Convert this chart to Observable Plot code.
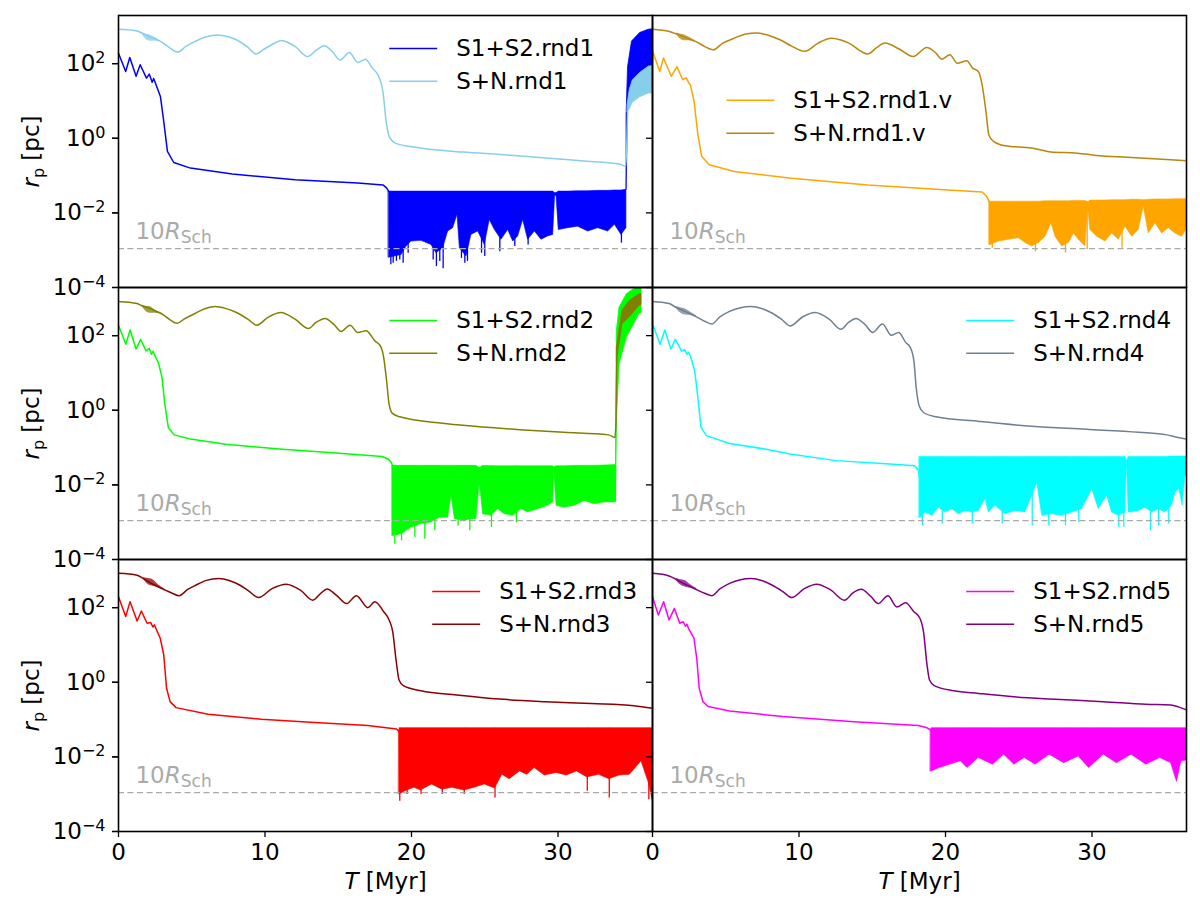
<!DOCTYPE html>
<html>
<head>
<meta charset="utf-8">
<script src="https://cdn.jsdelivr.net/npm/d3@7"></script>
<script src="https://cdn.jsdelivr.net/npm/@observablehq/plot@0.6"></script>
<style>
  html, body { margin: 0; padding: 0; background: #fff; }
  #chart { width: 1200px; height: 914px; }
</style>
</head>
<body>
<div id="chart"></div>
<script>
// ---- Data (T in Myr; all r values are log10(r_p / pc)) ----
const yTickValues = [1e-4, 1e-2, 1, 1e2];
const xTickValues = [0, 10, 20, 30];
const rSch10Log = -2.96;

// Panel 1: rnd1   (bands: [T, lower, upper]; spikes: [T, depth])
const s12Rnd1 = [[0,2.28],[0.49,1.79],[0.77,2.165],[1.2,1.66],[1.48,1.97],[1.91,1.61],[2.1,1.72],[2.3,1.5],[2.4,1.6],[2.55,1.45],[2.86,1.12],[3.06,0.54],[3.34,-0.35],[3.77,-0.65],[4.91,-0.8],[7.77,-0.96],[12.05,-1.11],[16.33,-1.2],[18.05,-1.25],[18.3,-1.33],[18.45,-1.43]];
const s12Rnd1Band = [[18.45,-3.2,-1.43],[18.86,-3.17,-1.43],[19.32,-3.13,-1.43],[19.66,-2.9,-1.43],[20.0,-2.77,-1.43],[20.68,-2.75,-1.43],[21.36,-2.86,-1.43],[21.7,-3.08,-1.43],[22.16,-2.95,-1.43],[22.5,-2.5,-1.43],[22.84,-2.41,-1.43],[23.14,-2.05,-1.43],[23.3,-2.95,-1.43],[23.75,-3.17,-1.43],[24.09,-2.59,-1.43],[24.55,-2.5,-1.43],[25.0,-2.86,-1.43],[25.34,-2.19,-1.43],[25.69,-2.46,-1.43],[26.14,-2.72,-1.43],[26.6,-2.46,-1.43],[26.94,-2.77,-1.43],[27.28,-2.63,-1.43],[27.62,-2.19,-1.43],[27.96,-2.72,-1.43],[28.42,-2.5,-1.43],[28.87,-2.72,-1.43],[29.33,-2.63,-1.43],[29.67,-2.59,-1.43],[29.8,-1.55,-1.47],[29.9,-1.55,-1.47],[30.05,-2.46,-1.43],[30.69,-2.41,-1.43],[31.37,-2.37,-1.42],[32.06,-2.5,-1.42],[32.74,-2.41,-1.41],[33.42,-2.5,-1.41],[33.88,-2.32,-1.4],[34.33,-2.59,-1.4],[34.67,-2.41,-1.38]];
const s12Rnd1Spikes = [[18.59,-3.39],[18.75,-3.35],[18.97,-3.3],[19.2,-3.26],[19.43,-3.35],[19.77,-3.08],[21.48,-3.26],[21.7,-3.44],[21.93,-3.3],[22.16,-3.5],[23.41,-3.22],[23.64,-3.35],[23.82,-3.3],[24.78,-3.08],[25.0,-3.17],[26.03,-3.04],[27.05,-2.9],[27.96,-2.86],[34.33,-2.81]];
const s12Rnd1Jump = [[34.68,-1.38,0.6],[34.78,0.7,1.9],[35.05,1.4,2.59],[35.6,1.5,2.82],[36.2,1.6,2.91],[36.45,1.6,2.92]];
const snRnd1 = [[0,2.92],[1.2,2.88],[1.6,2.82],[2.06,2.73],[2.5,2.66],[2.9,2.59],[3.5,2.42],[4.05,2.31],[4.6,2.46],[5.2,2.59],[6.0,2.72],[6.77,2.77],[7.5,2.72],[8.05,2.64],[8.8,2.45],[9.4,2.26],[9.9,2.38],[10.34,2.48],[11.14,2.62],[11.6,2.56],[12.05,2.46],[12.9,2.19],[13.5,2.36],[14.05,2.48],[14.6,2.32],[15.13,2.1],[15.76,2.3],[16.33,2.03],[16.85,2.12],[17.33,1.88],[17.76,1.66],[18.05,1.25],[18.27,0.45],[18.47,0.05],[18.9,-0.13],[20.6,-0.26],[23.5,-0.37],[26.3,-0.44],[29.2,-0.53],[32.2,-0.62],[34.2,-0.69],[34.62,-0.75],[34.7,-0.085],[34.75,0.72]];
const snRnd1Fuzz = [[1.6,2.8,2.83],[1.85,2.66,2.79],[2.15,2.6,2.77],[2.5,2.6,2.7],[2.85,2.58,2.61]];
const snRnd1Jump = [[34.75,0.7,0.9],[34.9,0.78,1.3],[35.1,0.95,1.55],[35.6,1.1,1.75],[36.2,1.2,1.92],[36.45,1.2,1.93]];

// Panel 2: rnd1.v
const s12Rnd1v = [[0,2.33],[0.5,1.79],[0.75,2.15],[1.28,1.66],[1.67,1.92],[2.06,1.57],[2.3,1.62],[2.45,1.5],[2.58,1.43],[2.84,0.99],[3.1,0.09],[3.36,-0.49],[3.88,-0.71],[5.57,-0.89],[9.48,-1.07],[14.7,-1.25],[19.9,-1.38],[22.5,-1.44],[22.8,-1.55],[23.0,-1.7]];
const s12Rnd1vBand = [[23.0,-2.86,-1.7],[23.08,-2.86,-1.7],[23.64,-2.77,-1.7],[24.33,-2.72,-1.7],[25.01,-2.68,-1.7],[25.46,-2.81,-1.7],[25.92,-2.9,-1.7],[26.37,-2.81,-1.7],[26.83,-2.64,-1.69],[27.23,-2.28,-1.69],[27.51,-2.64,-1.69],[27.96,-2.9,-1.69],[28.42,-2.81,-1.69],[28.76,-2.55,-1.68],[29.1,-2.72,-1.68],[29.55,-2.9,-1.68],[29.73,-1.83,-1.72],[29.89,-2.46,-1.67],[30.35,-2.64,-1.67],[30.92,-2.77,-1.67],[31.37,-2.55,-1.66],[31.83,-2.72,-1.66],[32.28,-2.37,-1.66],[32.74,-2.64,-1.65],[33.19,-2.46,-1.65],[33.53,-1.83,-1.66],[33.87,-2.55,-1.65],[34.33,-2.28,-1.64],[34.78,-2.55,-1.64],[35.24,-2.41,-1.64],[35.69,-2.55,-1.635],[36.14,-2.64,-1.635],[36.45,-2.46,-1.635]];
const s12Rnd1vSpikes = [[23.19,-2.95],[26.14,-3.04],[28.19,-3.08],[29.67,-2.99],[32.05,-2.95]];
const snRnd1v = [[0,2.92],[1.15,2.86],[1.6,2.8],[2.06,2.73],[2.5,2.66],[2.97,2.59],[3.6,2.45],[4.14,2.37],[4.8,2.55],[5.57,2.68],[6.3,2.79],[7.13,2.82],[7.9,2.76],[8.7,2.64],[9.5,2.47],[10.39,2.33],[11.3,2.55],[12.2,2.68],[12.8,2.64],[13.4,2.55],[14.7,2.26],[15.3,2.43],[15.86,2.55],[16.8,2.4],[17.8,2.19],[18.72,2.43],[19.3,2.3],[19.76,2.12],[20.3,2.24],[20.8,2.01],[21.45,2.08],[21.85,1.88],[22.24,1.79],[22.5,1.43],[22.76,0.72],[22.96,0.09],[23.28,-0.085],[24.06,-0.2],[25.88,-0.26],[27.2,-0.37],[29.0,-0.4],[30.3,-0.46],[32.4,-0.51],[34.2,-0.55],[36.45,-0.6]];
const snRnd1vFuzz = [[1.65,2.79,2.82],[1.9,2.66,2.79],[2.2,2.61,2.77],[2.55,2.61,2.7],[2.9,2.59,2.62]];

// Panel 3: rnd2
const s12Rnd2 = [[0,2.28],[0.5,1.77],[0.79,2.15],[1.2,1.64],[1.51,1.9],[1.88,1.59],[2.1,1.66],[2.25,1.5],[2.36,1.58],[2.5,1.45],[2.72,1.28],[2.97,0.88],[3.16,0.165],[3.4,-0.46],[3.8,-0.66],[4.9,-0.77],[7.33,-0.91],[10.96,-1.04],[14.6,-1.14],[18.0,-1.24],[18.45,-1.32],[18.65,-1.42],[18.7,-1.49]];
const s12Rnd2Band = [[18.7,-3.37,-1.49],[18.75,-3.37,-1.49],[19.32,-3.32,-1.49],[20.0,-3.14,-1.49],[20.68,-3.05,-1.49],[21.36,-3.01,-1.49],[21.93,-2.88,-1.49],[22.5,-2.88,-1.49],[22.73,-2.29,-1.49],[22.96,-2.92,-1.49],[23.64,-2.96,-1.49],[24.09,-2.92,-1.49],[24.43,-2.92,-1.49],[24.66,-1.94,-1.55],[24.89,-2.79,-1.49],[25.46,-2.83,-1.5],[25.91,-2.65,-1.5],[26.37,-2.79,-1.5],[26.94,-2.83,-1.5],[27.51,-2.65,-1.5],[27.96,-2.74,-1.5],[28.64,-2.65,-1.5],[29.33,-2.56,-1.5],[29.67,-2.47,-1.5],[29.74,-1.58,-1.52],[29.9,-2.56,-1.5],[30.46,-2.61,-1.5],[31.15,-2.56,-1.49],[31.83,-2.43,-1.49],[32.51,-2.52,-1.49],[33.2,-2.47,-1.48],[33.88,-2.47,-1.47],[33.95,-2.45,-1.47]];
const s12Rnd2Spikes = [[18.86,-3.59],[19.32,-3.5],[20.23,-3.41],[20.91,-3.46],[21.59,-3.23],[23.18,-3.1],[23.98,-3.23],[25.46,-3.14],[27.16,-3.01]];
const s12Rnd2Jump = [[33.96,-2.45,-1.47],[34.02,-0.28,2.13],[34.2,1.24,2.75],[34.7,1.95,3.11],[35.2,2.31,3.25],[35.55,2.58,3.29],[35.7,2.6,3.29]];
const snRnd2 = [[0,2.915],[1.27,2.86],[1.6,2.8],[2.0,2.75],[2.5,2.66],[2.97,2.58],[3.5,2.43],[4.0,2.33],[4.5,2.45],[5.15,2.58],[5.9,2.72],[6.6,2.78],[7.3,2.73],[8.05,2.62],[8.8,2.45],[9.44,2.28],[10.2,2.49],[11.08,2.62],[12.05,2.44],[12.97,2.19],[13.5,2.36],[14.1,2.46],[14.7,2.3],[15.2,2.11],[15.8,2.28],[16.34,2.085],[16.9,2.13],[17.5,1.86],[17.87,1.73],[18.1,1.42],[18.3,0.79],[18.47,0.165],[18.7,-0.085],[19.2,-0.175],[22.1,-0.35],[24.3,-0.43],[27.4,-0.52],[30.4,-0.59],[33.45,-0.66],[33.88,-0.73],[33.96,-0.28],[34.02,1.68]];
const snRnd2Fuzz = [[1.6,2.79,2.82],[1.85,2.66,2.79],[2.12,2.6,2.78],[2.5,2.6,2.69],[2.9,2.58,2.61]];
const snRnd2Jump = [[34.02,1.3,1.68],[34.4,2.31,2.67],[34.9,2.49,2.93],[35.55,2.8,3.11],[35.7,2.82,3.12]];

// Panel 4: rnd4
const s12Rnd4 = [[0,2.31],[0.52,1.77],[0.84,2.15],[1.25,1.64],[1.56,1.9],[1.98,1.59],[2.2,1.62],[2.35,1.5],[2.45,1.56],[2.58,1.46],[2.88,1.06],[3.07,0.43],[3.31,-0.46],[3.68,-0.68],[5.26,-0.89],[7.69,-1.04],[9.39,-1.17],[12.55,-1.35],[16.2,-1.44],[17.9,-1.49],[18.15,-1.6],[18.23,-1.8]];
const s12Rnd4Band = [[18.23,-2.88,-1.25],[18.3,-2.88,-1.25],[18.64,-2.74,-1.25],[19.1,-2.83,-1.25],[19.55,-2.61,-1.25],[20.0,-2.74,-1.25],[20.46,-2.65,-1.25],[20.92,-2.79,-1.25],[21.37,-2.7,-1.25],[21.83,-2.74,-1.25],[22.28,-2.7,-1.25],[22.73,-2.38,-1.25],[22.96,-2.74,-1.25],[23.42,-2.56,-1.25],[24.1,-2.79,-1.25],[24.78,-2.7,-1.25],[25.46,-2.74,-1.25],[26.26,-1.94,-1.25],[26.6,-2.83,-1.25],[27.28,-2.79,-1.25],[27.96,-2.83,-1.25],[28.64,-2.74,-1.25],[29.33,-2.65,-1.25],[30.01,-2.12,-1.25],[30.46,-2.65,-1.25],[31.03,-2.29,-1.25],[31.37,-2.74,-1.25],[31.83,-2.83,-1.25],[32.28,-2.74,-1.25],[32.39,-1.36,-1.36],[32.5,-2.74,-1.25],[32.62,-2.74,-1.25],[33.19,-2.7,-1.25],[33.64,-2.61,-1.25],[34.1,-2.74,-1.25],[34.55,-2.65,-1.25],[35.01,-2.74,-1.25],[35.46,-2.56,-1.24],[35.69,-2.21,-1.24],[35.96,-2.12,-1.24],[36.19,-2.56,-1.24],[36.37,-1.76,-1.24],[36.45,-1.76,-1.24]];
const s12Rnd4Spikes = [[18.42,-3.1],[19.78,-3.05],[21.83,-3.05],[23.87,-3.05],[25.92,-3.1],[27.05,-3.1],[28.19,-3.1],[29.1,-3.01],[31.83,-3.14],[32.17,-3.14],[33.99,-3.23],[34.55,-3.1],[35.24,-3.05]];
const snRnd4 = [[0,2.915],[1.13,2.86],[1.6,2.76],[2.1,2.67],[2.6,2.58],[3.07,2.49],[3.6,2.38],[4.04,2.31],[4.6,2.5],[5.26,2.65],[6.0,2.75],[6.72,2.78],[7.5,2.72],[8.18,2.6],[8.8,2.44],[9.39,2.26],[10.24,2.5],[11.09,2.62],[12.06,2.44],[12.86,2.17],[13.4,2.36],[13.88,2.46],[14.5,2.3],[15.02,2.085],[15.7,2.31],[16.3,2.01],[16.8,2.085],[17.28,1.82],[17.6,1.68],[17.84,1.33],[18.0,0.61],[18.2,0.12],[18.5,-0.06],[19.35,-0.175],[22.3,-0.3],[25.9,-0.43],[29.6,-0.51],[33.2,-0.59],[35.1,-0.66],[35.87,-0.73],[36.45,-0.77]];
const snRnd4Fuzz = [[1.6,2.75,2.78],[1.9,2.61,2.75],[2.22,2.55,2.72],[2.6,2.54,2.63],[3.0,2.5,2.53]];

// Panel 5: rnd3
const s12Rnd3 = [[0,2.29],[0.49,1.76],[0.79,2.16],[1.27,1.64],[1.56,1.91],[1.95,1.58],[2.2,1.6],[2.35,1.48],[2.45,1.54],[2.6,1.4],[2.85,1.18],[3.09,0.73],[3.28,-0.16],[3.52,-0.52],[3.93,-0.68],[6.12,-0.86],[9.75,-0.99],[13.39,-1.08],[17.02,-1.16],[18.96,-1.25],[19.15,-1.32]];
const s12Rnd3Band = [[19.15,-3.0,-1.32],[19.2,-3.0,-1.23],[19.7,-2.9,-1.23],[20.2,-2.83,-1.23],[20.65,-2.9,-1.23],[21.4,-2.74,-1.23],[22.1,-2.88,-1.23],[22.8,-2.83,-1.23],[23.6,-2.9,-1.23],[24.3,-2.83,-1.23],[25.0,-2.74,-1.23],[25.7,-2.85,-1.23],[26.2,-2.48,-1.23],[26.7,-2.6,-1.23],[27.4,-2.39,-1.23],[27.9,-2.48,-1.23],[28.4,-2.3,-1.23],[29.1,-2.5,-1.23],[29.9,-2.43,-1.23],[30.6,-2.5,-1.23],[31.3,-2.39,-1.23],[32.0,-2.55,-1.23],[32.8,-2.48,-1.23],[33.5,-2.6,-1.23],[34.2,-2.5,-1.23],[34.9,-2.48,-1.23],[35.7,-2.12,-1.23],[36.2,-2.7,-1.23],[36.45,-3.15,-1.23]];
const s12Rnd3Spikes = [[19.2,-3.19],[19.7,-3.01],[20.65,-3.01],[22.1,-3.01],[23.6,-3.01],[25.7,-3.1],[32.0,-2.92],[33.5,-3.1],[36.2,-3.15]];
const snRnd3 = [[0,2.92],[1.27,2.87],[1.7,2.78],[2.24,2.65],[2.7,2.56],[3.2,2.47],[3.7,2.38],[4.13,2.32],[4.7,2.48],[5.27,2.6],[6.0,2.73],[6.84,2.78],[7.6,2.72],[8.3,2.6],[8.9,2.44],[9.56,2.27],[10.48,2.51],[11.45,2.63],[12.42,2.47],[13.27,2.2],[13.8,2.38],[14.23,2.5],[14.9,2.32],[15.57,2.11],[16.24,2.32],[17.02,2.0],[17.5,2.16],[18.1,1.89],[18.47,1.67],[18.72,1.35],[18.96,0.55],[19.15,0.06],[19.44,-0.09],[20.65,-0.23],[23.08,-0.34],[25.99,-0.45],[29.14,-0.52],[32.28,-0.57],[35.19,-0.63],[36.45,-0.7]];
const snRnd3Fuzz = [[1.7,2.77,2.8],[2.0,2.63,2.78],[2.3,2.58,2.76],[2.7,2.54,2.62],[3.1,2.48,2.51]];

// Panel 6: rnd5
const s12Rnd5 = [[0,2.29],[0.4,1.8],[0.76,2.16],[1.13,1.67],[1.49,1.98],[1.86,1.58],[2.1,1.62],[2.25,1.5],[2.35,1.56],[2.46,1.44],[2.83,1.18],[3.02,0.64],[3.19,-0.16],[3.44,-0.52],[3.8,-0.65],[5.26,-0.77],[8.9,-0.92],[13.76,-1.06],[18.14,-1.16],[18.74,-1.22],[18.99,-1.28]];
const s12Rnd5Band = [[18.99,-2.39,-1.28],[19.06,-2.39,-1.23],[19.6,-2.3,-1.23],[20.3,-2.21,-1.23],[21.05,-2.12,-1.23],[21.5,-2.3,-1.23],[22.26,-2.03,-1.23],[23.24,-2.21,-1.23],[24.0,-1.94,-1.23],[24.7,-2.21,-1.23],[25.4,-2.03,-1.23],[26.15,-2.21,-1.23],[27.1,-1.94,-1.23],[28.1,-2.17,-1.23],[29.1,-1.99,-1.23],[29.8,-2.3,-1.23],[30.8,-1.94,-1.23],[31.7,-2.17,-1.23],[32.7,-1.94,-1.23],[33.7,-2.21,-1.23],[34.65,-2.03,-1.23],[35.4,-2.17,-1.23],[35.8,-2.67,-1.23],[36.1,-2.12,-1.23],[36.45,-2.1,-1.23]];
const s12Rnd5Spikes = [];
const snRnd5 = [[0,2.92],[1.13,2.85],[1.6,2.76],[2.1,2.65],[2.6,2.56],[3.07,2.47],[3.6,2.38],[4.04,2.32],[4.6,2.5],[5.26,2.65],[6.0,2.75],[6.72,2.78],[7.5,2.72],[8.18,2.6],[8.9,2.43],[9.51,2.27],[10.36,2.51],[11.21,2.63],[12.18,2.47],[13.1,2.2],[13.7,2.4],[14.25,2.49],[14.9,2.3],[15.41,2.11],[16.07,2.32],[16.68,2.02],[17.28,2.13],[17.84,1.89],[18.26,1.71],[18.5,1.35],[18.74,0.46],[18.91,0.06],[19.23,-0.09],[20.56,-0.23],[22.26,-0.3],[24.69,-0.39],[27.12,-0.45],[30.77,-0.52],[33.68,-0.59],[35.38,-0.61],[35.9,-0.66],[36.45,-0.74]];
const snRnd5Fuzz = [[1.6,2.75,2.78],[1.9,2.61,2.75],[2.22,2.55,2.73],[2.6,2.52,2.61],[3.0,2.48,2.51]];

// ---- Layout ----
const WIDTH = 1200, HEIGHT = 914;
const M = {left: 117, right: 14, top: 14, bottom: 82};
const FW = (WIDTH - M.left - M.right) / 2;
const FH = (HEIGHT - M.top - M.bottom) / 3;
const X_MAX = 36.45, Y_TOP = 3.29, Y_BOT = -4;
const FONT = 23;
const tAt = px => px / FW * X_MAX;
const rAt = py => 10 ** (Y_TOP - py / FH * (Y_TOP - Y_BOT));

const panels = [
  {col: 0, row: 0, s12Name: "S1+S2.rnd1", snName: "S+N.rnd1", c12: "#0000ff", csn: "#87ceeb",
   s12: s12Rnd1, s12Band: s12Rnd1Band, spikes: s12Rnd1Spikes, s12Jump: s12Rnd1Jump, sn: snRnd1, snFuzz: snRnd1Fuzz, snJump: snRnd1Jump, leg: [271, 33]},
  {col: 1, row: 0, s12Name: "S1+S2.rnd1.v", snName: "S+N.rnd1.v", c12: "#ffa500", csn: "#b8860b",
   s12: s12Rnd1v, s12Band: s12Rnd1vBand, spikes: s12Rnd1vSpikes, sn: snRnd1v, snFuzz: snRnd1vFuzz, leg: [74, 85]},
  {col: 0, row: 1, s12Name: "S1+S2.rnd2", snName: "S+N.rnd2", c12: "#00ff00", csn: "#808000",
   s12: s12Rnd2, s12Band: s12Rnd2Band, spikes: s12Rnd2Spikes, s12Jump: s12Rnd2Jump, sn: snRnd2, snFuzz: snRnd2Fuzz, snJump: snRnd2Jump, leg: [271, 33]},
  {col: 1, row: 1, s12Name: "S1+S2.rnd4", snName: "S+N.rnd4", c12: "#00ffff", csn: "#708090",
   s12: s12Rnd4, s12Band: s12Rnd4Band, spikes: s12Rnd4Spikes, sn: snRnd4, snFuzz: snRnd4Fuzz, leg: [314, 33]},
  {col: 0, row: 2, s12Name: "S1+S2.rnd3", snName: "S+N.rnd3", c12: "#ff0000", csn: "#8b0000",
   s12: s12Rnd3, s12Band: s12Rnd3Band, spikes: s12Rnd3Spikes, sn: snRnd3, snFuzz: snRnd3Fuzz, leg: [314, 32]},
  {col: 1, row: 2, s12Name: "S1+S2.rnd5", snName: "S+N.rnd5", c12: "#ff00ff", csn: "#800080",
   s12: s12Rnd5, s12Band: s12Rnd5Band, spikes: s12Rnd5Spikes, sn: snRnd5, snFuzz: snRnd5Fuzz, leg: [314, 32]}
];

const lineRows = (arr, p) => arr.map(([T, lr]) => ({T, r: 10 ** lr, col: p.col, row: p.row}));
const bandRows = (arr, p) => arr.map(([T, lo, hi]) => ({T, lo: 10 ** lo, hi: 10 ** hi, col: p.col, row: p.row}));

const marks = [];
for (const p of panels) {
  const fc = {fx: "col", fy: "row"};
  const bandTop = p.s12Band[1][2];
  marks.push(Plot.areaY(bandRows(p.s12Band, p), {x: "T", y1: "lo", y2: "hi", fill: p.c12, stroke: p.c12, strokeWidth: 0.6, ...fc}));
  marks.push(Plot.ruleX(p.spikes.map(([T, d]) => ({T, lo: 10 ** d, hi: 10 ** bandTop, col: p.col, row: p.row})),
    {x: "T", y1: "lo", y2: "hi", stroke: p.c12, strokeWidth: 1.3, ...fc}));
  marks.push(Plot.line(lineRows(p.s12, p), {x: "T", y: "r", stroke: p.c12, strokeWidth: 1.5, ...fc}));
  if (p.s12Jump) marks.push(Plot.areaY(bandRows(p.s12Jump, p), {x: "T", y1: "lo", y2: "hi", fill: p.c12, stroke: p.c12, strokeWidth: 0.8, clip: true, ...fc}));
  marks.push(Plot.areaY(bandRows(p.snFuzz, p), {x: "T", y1: "lo", y2: "hi", fill: p.csn, fillOpacity: 0.75, curve: "monotone-x", ...fc}));
  marks.push(Plot.line(lineRows(p.sn, p), {x: "T", y: "r", stroke: p.csn, strokeWidth: 1.5, curve: "monotone-x", ...fc}));
  if (p.snJump) marks.push(Plot.areaY(bandRows(p.snJump, p), {x: "T", y1: "lo", y2: "hi", fill: p.csn, stroke: p.csn, strokeWidth: 0.8, clip: true, ...fc}));
}

// 10 R_Sch reference line
marks.push(Plot.ruleY([10 ** rSch10Log], {stroke: "#aaaaaa", strokeWidth: 1.3, strokeDasharray: "6,3.5"}));
marks.push(Plot.text(panels, {fx: "col", fy: "row", x: () => tAt(17), y: () => rAt(224), text: () => "10R_Sch",
  textAnchor: "start", lineAnchor: "bottom", fill: "#aaaaaa", fontSize: FONT}));

// Legends
const legendRows = panels.flatMap(p => [
  {col: p.col, row: p.row, label: p.s12Name, color: p.c12, x1: tAt(p.leg[0]), x2: tAt(p.leg[0] + 48), tx: tAt(p.leg[0] + 67), y: rAt(p.leg[1])},
  {col: p.col, row: p.row, label: p.snName, color: p.csn, x1: tAt(p.leg[0]), x2: tAt(p.leg[0] + 48), tx: tAt(p.leg[0] + 67), y: rAt(p.leg[1] + 33)}
]);
marks.push(Plot.link(legendRows, {fx: "col", fy: "row", x1: "x1", x2: "x2", y1: "y", y2: "y", stroke: "color", strokeWidth: 1.5}));
marks.push(Plot.text(legendRows, {fx: "col", fy: "row", x: "tx", y: "y", text: "label", textAnchor: "start", lineAnchor: "middle", fill: "black", fontSize: FONT}));

// Frames and axes
marks.push(Plot.frame({stroke: "black", strokeWidth: 1.6}));
const yFmt = d => "10^" + String(Math.round(Math.log10(d))).replace("-", "\u2212");
marks.push(Plot.axisY(yTickValues, {facetAnchor: null, tickSize: 6, fill: "none", label: null, strokeWidth: 1.3}));
marks.push(Plot.axisY(yTickValues, {facetAnchor: "left", tickSize: 6, tickPadding: 7, tickFormat: yFmt, label: null, fontSize: FONT, strokeWidth: 1.3}));
marks.push(Plot.axisX(xTickValues, {facetAnchor: "bottom", tickSize: 6, tickPadding: 6, label: null, fontSize: FONT, strokeWidth: 1.3}));

// Axis titles
marks.push(Plot.text([0, 1, 2], {fx: () => 0, fy: d => d, frameAnchor: "left", dx: -87, rotate: -90, text: () => "r_p [pc]", textAnchor: "middle", lineAnchor: "middle", fontSize: FONT}));
marks.push(Plot.text([0, 1], {fx: d => d, fy: () => 2, frameAnchor: "bottom", dy: 50, text: () => "T [Myr]", textAnchor: "middle", lineAnchor: "middle", fontSize: FONT}));

const svg = Plot.plot({
  width: WIDTH, height: HEIGHT,
  marginLeft: M.left, marginRight: M.right, marginTop: M.top, marginBottom: M.bottom,
  fx: {domain: [0, 1], padding: 0, axis: null},
  fy: {domain: [0, 1, 2], padding: 0, axis: null},
  x: {domain: [0, X_MAX]},
  y: {type: "log", domain: [10 ** Y_BOT, 10 ** Y_TOP]},
  color: {type: "identity"},
  style: {fontFamily: "'DejaVu Sans', sans-serif", fontSize: FONT + "px", color: "black", background: "white", overflow: "visible"},
  marks
});

// Rich text (italics, sub/superscripts)
d3.select(svg).selectAll("text").each(function () {
  const t = this.textContent;
  const sel = d3.select(this);
  let m;
  if ((m = /^10\^(.+)$/.exec(t))) {
    sel.text(null);
    sel.append("tspan").text("10");
    sel.append("tspan").attr("dy", -8).attr("font-size", 16).text(m[1]);
  } else if (t === "r_p [pc]") {
    sel.text(null);
    sel.append("tspan").attr("font-style", "italic").text("r");
    sel.append("tspan").attr("dy", 5).attr("font-size", 16).text("p");
    sel.append("tspan").attr("dy", -5).text(" [pc]");
  } else if (t === "T [Myr]") {
    sel.text(null);
    sel.append("tspan").attr("font-style", "italic").text("T");
    sel.append("tspan").text(" [Myr]");
  } else if (t === "10R_Sch") {
    sel.text(null);
    sel.append("tspan").text("10");
    sel.append("tspan").attr("font-style", "italic").text("R");
    sel.append("tspan").attr("dy", 4).attr("font-size", 17).text("Sch");
  }
});

document.getElementById("chart").appendChild(svg);
</script>
</body>
</html>
